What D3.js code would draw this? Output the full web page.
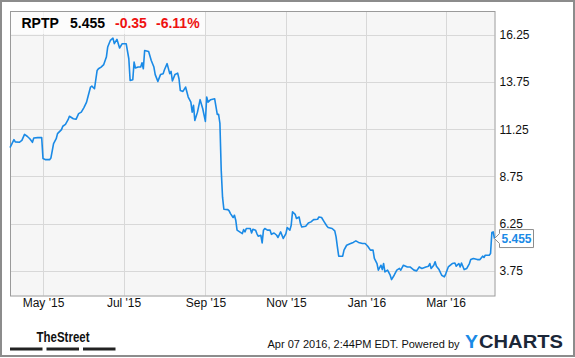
<!DOCTYPE html>
<html>
<head>
<meta charset="utf-8">
<script src="https://cdn.jsdelivr.net/npm/d3@7"></script>
<style>
  html, body { margin: 0; padding: 0; background: #fff; }
  text { font-family: "Liberation Sans", Arial, sans-serif; }
</style>
</head>
<body>
<div id="chart"></div>
<script>
// datos (RPTP, cierre diario aprox.)
const DATES = [
  "2015-04-06","2015-04-09","2015-04-10","2015-04-13","2015-04-15","2015-04-17","2015-04-19","2015-04-21","2015-04-23","2015-04-24",
  "2015-04-27","2015-04-30","2015-05-01","2015-05-03","2015-05-06","2015-05-07","2015-05-09","2015-05-11","2015-05-12","2015-05-15",
  "2015-05-16","2015-05-18","2015-05-20","2015-05-21","2015-05-24","2015-05-26","2015-05-28","2015-05-30","2015-06-01","2015-06-03",
  "2015-06-04","2015-06-06","2015-06-07","2015-06-09","2015-06-11","2015-06-12","2015-06-14","2015-06-16","2015-06-18","2015-06-19",
  "2015-06-21","2015-06-23","2015-06-24","2015-06-26","2015-06-28","2015-06-30","2015-07-03","2015-07-05","2015-07-06","2015-07-08",
  "2015-07-09","2015-07-10","2015-07-12","2015-07-14","2015-07-15","2015-07-16","2015-07-17","2015-07-20","2015-07-22","2015-07-24",
  "2015-07-25","2015-07-27","2015-07-29","2015-07-31","2015-08-01","2015-08-03","2015-08-05","2015-08-06","2015-08-07","2015-08-09",
  "2015-08-11","2015-08-12","2015-08-13","2015-08-15","2015-08-17","2015-08-19","2015-08-21","2015-08-22","2015-08-23","2015-08-24",
  "2015-08-26","2015-08-28","2015-08-30","2015-09-01","2015-09-02","2015-09-03","2015-09-05","2015-09-08","2015-09-10","2015-09-11",
  "2015-09-12","2015-09-13","2015-09-14","2015-09-15","2015-09-18","2015-09-19","2015-09-20","2015-09-22","2015-09-23","2015-09-24",
  "2015-09-25","2015-09-27","2015-09-29","2015-09-30","2015-10-01","2015-10-02","2015-10-05","2015-10-06","2015-10-07","2015-10-09",
  "2015-10-10","2015-10-11","2015-10-13","2015-10-14","2015-10-15","2015-10-16","2015-10-18","2015-10-20","2015-10-21","2015-10-23",
  "2015-10-25","2015-10-26","2015-10-28","2015-10-30","2015-11-01","2015-11-02","2015-11-04","2015-11-05","2015-11-06","2015-11-08",
  "2015-11-09","2015-11-11","2015-11-12","2015-11-13","2015-11-16","2015-11-18","2015-11-20","2015-11-22","2015-11-25","2015-11-26",
  "2015-11-28","2015-11-30","2015-12-02","2015-12-03","2015-12-06","2015-12-08","2015-12-09","2015-12-10","2015-12-11","2015-12-14",
  "2015-12-15","2015-12-17","2015-12-20","2015-12-22","2015-12-24","2015-12-26","2015-12-29","2015-12-31","2016-01-02","2016-01-04",
  "2016-01-06","2016-01-07","2016-01-09","2016-01-10","2016-01-12","2016-01-13","2016-01-14","2016-01-15","2016-01-17","2016-01-19",
  "2016-01-20","2016-01-22","2016-01-24","2016-01-26","2016-01-27","2016-01-29","2016-02-01","2016-02-03","2016-02-06","2016-02-08",
  "2016-02-10","2016-02-12","2016-02-15","2016-02-17","2016-02-18","2016-02-19","2016-02-21","2016-02-22","2016-02-23","2016-02-25",
  "2016-02-27","2016-02-29","2016-03-01","2016-03-03","2016-03-06","2016-03-08","2016-03-09","2016-03-11","2016-03-12","2016-03-13",
  "2016-03-15","2016-03-17","2016-03-19","2016-03-20","2016-03-22","2016-03-25","2016-03-27","2016-03-29","2016-03-30","2016-03-31",
  "2016-04-03","2016-04-04","2016-04-05","2016-04-06","2016-04-07"
];
const PRICES = [
  10.28,10.70,10.58,10.56,10.66,10.98,10.88,10.75,10.56,10.79,
  10.81,10.81,9.70,9.64,9.64,9.73,10.49,10.75,11.02,11.23,
  11.41,11.51,11.76,11.94,11.81,11.78,12.08,12.16,12.40,12.69,
  12.96,13.49,13.54,13.40,14.37,14.46,14.55,14.68,15.08,15.61,
  15.96,16.08,15.79,16.02,15.56,15.79,15.79,14.99,13.84,13.88,
  14.81,14.50,14.55,14.55,14.78,14.46,15.43,15.38,14.90,14.55,
  14.15,13.79,14.15,14.20,14.41,14.73,14.20,14.32,13.81,14.16,
  14.23,13.93,13.31,13.26,13.49,12.96,12.69,12.16,12.52,11.72,
  12.16,12.82,12.34,11.67,12.96,12.69,12.82,12.87,12.04,12.04,
  11.57,9.08,7.65,7.01,6.99,6.92,6.78,6.57,6.69,6.43,
  5.90,5.81,5.72,5.93,5.81,5.99,5.99,5.75,5.95,5.90,
  5.72,5.58,5.63,5.22,5.90,5.99,5.90,5.90,5.68,5.75,
  5.63,5.51,5.81,5.46,5.72,6.04,5.90,6.16,6.87,6.74,
  6.52,6.60,6.25,6.07,6.11,6.28,6.34,6.46,6.48,6.60,
  6.57,6.34,6.12,6.04,5.99,5.86,5.54,5.01,4.52,4.52,
  4.84,5.10,5.19,5.25,5.33,5.25,5.19,5.19,5.05,4.84,
  4.84,4.40,4.13,3.78,4.04,3.81,4.13,3.69,3.78,3.51,
  3.28,3.51,3.78,3.87,3.78,4.04,3.95,3.95,3.78,3.74,
  3.95,3.87,3.95,3.99,4.13,3.87,4.04,4.22,3.99,3.81,
  3.51,3.42,3.57,3.95,4.13,4.16,3.99,4.13,3.95,4.16,
  3.81,3.87,4.13,4.34,4.40,4.34,4.34,4.52,4.45,4.57,
  4.57,4.66,5.78,5.81,5.455
];
const Y_TICKS = [3.75, 6.25, 8.75, 11.25, 13.75, 16.25];
const X_TICKS = ["2015-05-01","2015-07-01","2015-09-01","2015-11-01","2016-01-01","2016-03-01"];

const TICKER = "RPTP";
const LAST = "5.455";
const CHANGE = "-0.35";
const CHANGE_PCT = "-6.11%";

const SVG_WIDTH = 575;
const SVG_HEIGHT = 358;
const PLOT = { left: 10, right: 494.5, top: 11, bottom: 295.5 };

const LINE_COLOR = "#1a8ae6";

const parse = d3.timeParse("%Y-%m-%d");
const data = DATES.map((d, i) => ({ date: parse(d), value: PRICES[i] }));

const svg = d3.select("#chart").append("svg")
  .attr("width", SVG_WIDTH)
  .attr("height", SVG_HEIGHT);

// marco exterior
svg.append("rect")
  .attr("x", 1).attr("y", 1)
  .attr("width", SVG_WIDTH - 2).attr("height", SVG_HEIGHT - 3)
  .attr("fill", "#fff")
  .attr("stroke", "#8c8c8c")
  .attr("stroke-width", 2);

const x = d3.scaleTime()
  .domain([parse("2015-04-06"), parse("2016-04-07")])
  .range([PLOT.left, PLOT.right]);

const y = d3.scaleLinear()
  .domain([2.435, 17.523])
  .range([PLOT.bottom, PLOT.top]);

// fondo del area
svg.append("rect")
  .attr("x", PLOT.left).attr("y", PLOT.top)
  .attr("width", PLOT.right - PLOT.left).attr("height", PLOT.bottom - PLOT.top)
  .attr("fill", "#f6f6f6");

// grilla
svg.append("g")
  .selectAll("line")
  .data(Y_TICKS)
  .join("line")
  .attr("x1", PLOT.left).attr("x2", PLOT.right)
  .attr("y1", d => Math.round(y(d)) + 0.5).attr("y2", d => Math.round(y(d)) + 0.5)
  .attr("stroke", "#d8d8d8");

svg.append("g")
  .selectAll("line")
  .data(X_TICKS.map(parse))
  .join("line")
  .attr("x1", d => Math.round(x(d)) + 0.5).attr("x2", d => Math.round(x(d)) + 0.5)
  .attr("y1", PLOT.top).attr("y2", PLOT.bottom)
  .attr("stroke", "#d8d8d8");

// borde del area
svg.append("rect")
  .attr("x", PLOT.left + 0.5).attr("y", PLOT.top + 0.5)
  .attr("width", PLOT.right - PLOT.left).attr("height", PLOT.bottom - PLOT.top)
  .attr("fill", "none")
  .attr("stroke", "#9a9a9a");

// linea de precio
const line = d3.line()
  .x(d => x(d.date))
  .y(d => y(d.value));

svg.append("path")
  .datum(data)
  .attr("fill", "none")
  .attr("stroke", LINE_COLOR)
  .attr("stroke-width", 1.6)
  .attr("stroke-linejoin", "round")
  .attr("d", line);

// eje derecho
const yAxis = svg.append("g")
  .attr("transform", `translate(${PLOT.right},0)`)
  .call(d3.axisRight(y).tickValues(Y_TICKS).tickSize(0).tickPadding(5).tickFormat(d3.format(".2f")));
yAxis.select(".domain").remove();
yAxis.selectAll("text").attr("font-size", 12).attr("fill", "#111")
  .attr("font-family", "'Liberation Sans', Arial, sans-serif");

// eje inferior
const xAxis = svg.append("g")
  .attr("transform", `translate(0,${PLOT.bottom})`)
  .call(d3.axisBottom(x).tickValues(X_TICKS.map(parse)).tickSize(0).tickPadding(3).tickFormat(d3.timeFormat("%b '%y")));
xAxis.select(".domain").remove();
xAxis.selectAll("text").attr("font-size", 12).attr("fill", "#111")
  .attr("font-family", "'Liberation Sans', Arial, sans-serif");

// etiqueta del ultimo precio
const last = data[data.length - 1];
const ly = y(last.value);
svg.append("path")
  .attr("d", `M${PLOT.right},${ly} L${PLOT.right + 5},${ly - 5} V${ly - 9} H${PLOT.right + 39} V${ly + 9} H${PLOT.right + 5} V${ly + 5} Z`)
  .attr("fill", "#fff")
  .attr("stroke", "#8c8c8c");
svg.append("text")
  .attr("x", PLOT.right + 7).attr("y", ly + 4.5)
  .attr("font-size", 12).attr("font-weight", "bold")
  .attr("fill", LINE_COLOR)
  .text(LAST);

// encabezado
svg.append("rect")
  .attr("x", PLOT.left + 1).attr("y", PLOT.top + 1)
  .attr("width", 194).attr("height", 22)
  .attr("fill", "#fff").attr("fill-opacity", 0.7);

const header = svg.append("text")
  .attr("x", 21.5).attr("y", 28)
  .attr("font-size", 14).attr("font-weight", "bold");
header.append("tspan").attr("fill", "#000").text(TICKER);
header.append("tspan").attr("x", 70).attr("fill", "#000").text(LAST);
header.append("tspan").attr("x", 115).attr("fill", "#ee1111").text(CHANGE);
header.append("tspan").attr("x", 156).attr("fill", "#ee1111").text(CHANGE_PCT);

// pie: TheStreet
svg.append("text")
  .attr("x", 36.5).attr("y", 341.5)
  .attr("font-size", 15).attr("font-weight", "bold")
  .attr("font-family", "'Liberation Sans Narrow', 'Arial Narrow', sans-serif")
  .attr("textLength", 53).attr("lengthAdjust", "spacingAndGlyphs")
  .attr("fill", "#111")
  .text("TheStreet");

svg.append("g")
  .selectAll("rect")
  .data([10, 46.5, 83])
  .join("rect")
  .attr("x", d => d).attr("y", 347.5)
  .attr("width", 32.5).attr("height", 3)
  .attr("fill", "#222");

// pie: fecha y YCHARTS
svg.append("text")
  .attr("x", 459.5).attr("y", 348)
  .attr("text-anchor", "end")
  .attr("font-size", 11).attr("fill", "#111")
  .text("Apr 07 2016, 2:44PM EDT.  Powered by");

svg.append("text")
  .attr("x", 465).attr("y", 348)
  .attr("font-size", 18).attr("font-weight", "bold")
  .attr("textLength", 13).attr("lengthAdjust", "spacingAndGlyphs")
  .attr("fill", "#1a8ae6")
  .text("Y");
svg.append("text")
  .attr("x", 479).attr("y", 348)
  .attr("font-size", 18).attr("font-weight", "bold")
  .attr("textLength", 84).attr("lengthAdjust", "spacingAndGlyphs")
  .attr("fill", "#1b2738")
  .text("CHARTS");
</script>
</body>
</html>
